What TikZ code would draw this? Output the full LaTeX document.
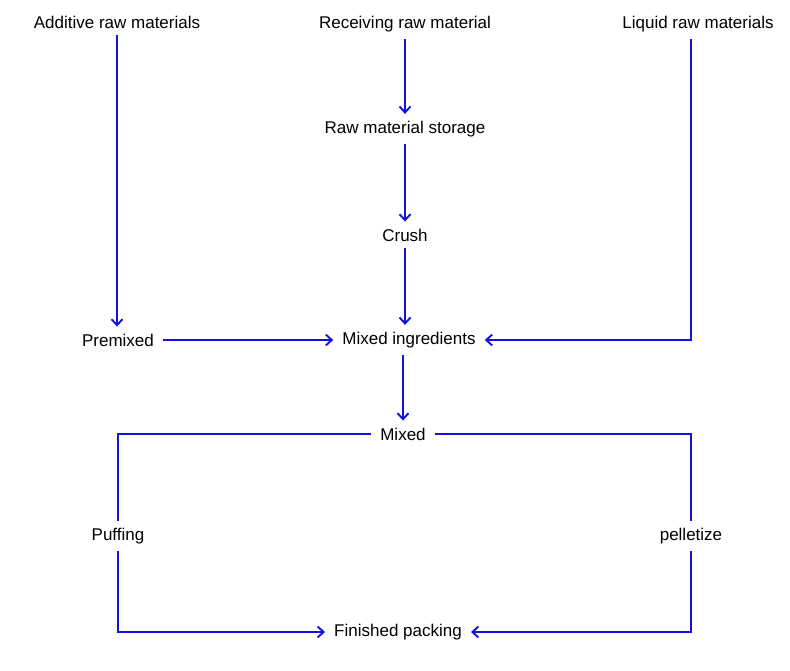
\documentclass[tikz,border=0pt]{standalone}
\usepackage{fontspec}
\setmainfont{Liberation Sans}
\usetikzlibrary{arrows.meta}
\definecolor{fblue}{RGB}{18,18,220}

\begin{document}
\begin{tikzpicture}[x=1pt,y=-1pt,>={Straight Barb[length=6pt,width=11pt]},
	every node/.style={font=\fontsize{17}{20}\selectfont,inner xsep=9pt,inner ysep=7pt},
	flow/.style={->,fblue,line width=1.9pt},
	plain/.style={fblue,line width=1.9pt}]
	  \useasboundingbox (0,0) rectangle (790,670);
	  \node (add) at (117,22)  {Additive raw materials};
	  \node (rec) at (405,24)  {Receiving raw material};
	  \node (liq) at (698,24)  {Liquid raw materials};
	  \node (sto) at (405,129) {Raw material storage};
	  \node (cru) at (405,235) {Crush};
	  \node (pre) at (118,340) {Premixed};
	  \node (ing) at (409,340) {Mixed ingredients};
	  \node (mix) at (403,434) {Mixed};
	  \node (puf) at (118,536) {Puffing};
	  \node (pel) at (691,536) {pelletize};
	  \node (fin) at (398,632) {Finished packing};

	  \draw[flow] (add) -- (add |- pre.north);
	  \draw[flow] (rec) -- (sto);
	  \draw[flow] (sto) -- (cru);
	  \draw[flow] (cru) -- (cru |- ing.north);
	  \draw[flow] (pre) -- (ing);
	  \draw[flow] (liq.south -| pel) -- (pel |- ing) -- (ing);
	  \draw[flow] (ing.south -| mix) -- (mix);
	  \draw[plain] (mix.west) -- (mix.west -| puf) -- (puf);
	  \draw[plain] (mix.east) -- (mix.east -| pel) -- (pel);
	  \draw[flow] (puf) |- (fin);
	  \draw[flow] (pel) |- (fin);
	\end{tikzpicture}
\end{document}
